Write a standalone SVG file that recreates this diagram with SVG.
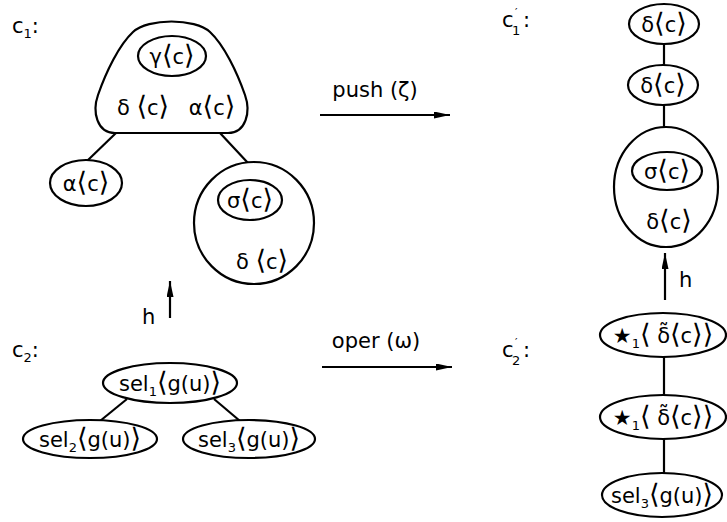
<svg xmlns="http://www.w3.org/2000/svg" width="727" height="522" viewBox="0 0 727 522">
  <style>
    .ln { fill: none; stroke: #000; stroke-width: 2.2; }
    .nd { fill: #fff; stroke: #000; stroke-width: 2.2; }
    .tx { font-family: "DejaVu Sans", "Liberation Sans", sans-serif; font-size: 21px; fill: #000; text-anchor: middle; }
    .lb { font-family: "DejaVu Sans", "Liberation Sans", sans-serif; font-size: 21px; fill: #000; }
    .sb { font-size: 13px; }
    .pr { font-size: 11px; }
    .br { font-size: 27px; }
  </style>
  <defs>
    <marker id="head" viewBox="0 0 16 7" refX="16" refY="3.5" markerWidth="16" markerHeight="7" markerUnits="userSpaceOnUse" orient="auto">
      <path d="M0,0 L16,3.5 L0,7 Z" fill="#000"/>
    </marker>
  </defs>

  <!-- configuration labels -->
  <text class="lb" x="12" y="33">c<tspan class="sb" dy="5">1</tspan><tspan dy="-5">:</tspan></text>
  <text class="lb" x="12" y="357">c<tspan class="sb" dy="5">2</tspan><tspan dy="-5">:</tspan></text>
  <g id="label-c1p">
    <text class="lb" x="502" y="27">c</text>
    <text class="lb pr" x="515" y="16">′</text>
    <text class="lb sb" x="512" y="35">1</text>
    <text class="lb" x="523" y="27">:</text>
  </g>
  <g id="label-c2p">
    <text class="lb" x="502" y="357">c</text>
    <text class="lb pr" x="515" y="346">′</text>
    <text class="lb sb" x="512" y="365">2</text>
    <text class="lb" x="523" y="357">:</text>
  </g>

  <!-- connectors -->
  <g id="connectors">
    <line class="ln" x1="148" y1="76" x2="140" y2="89"/>
    <line class="ln" x1="195" y1="76" x2="203" y2="88"/>
    <line class="ln" x1="116" y1="133" x2="87" y2="161"/>
    <line class="ln" x1="220" y1="133" x2="248" y2="163"/>
    <line class="ln" x1="254" y1="220" x2="254" y2="238"/>
    <line class="ln" x1="127" y1="399" x2="100" y2="421"/>
    <line class="ln" x1="214" y1="399" x2="240" y2="421"/>
    <line class="ln" x1="664" y1="44" x2="664" y2="66"/>
    <line class="ln" x1="664" y1="105" x2="664" y2="128"/>
    <line class="ln" x1="666" y1="190" x2="666" y2="205"/>
    <line class="ln" x1="664" y1="357" x2="664" y2="396"/>
    <line class="ln" x1="664" y1="439" x2="664" y2="474"/>
    <!-- morphisms -->
    <line class="ln" x1="320" y1="115" x2="450" y2="115" marker-end="url(#head)"/>
    <line class="ln" x1="322" y1="367" x2="452" y2="367" marker-end="url(#head)"/>
    <line class="ln" x1="170" y1="318" x2="170" y2="281" marker-end="url(#head)"/>
    <line class="ln" x1="665" y1="300" x2="665" y2="253" marker-end="url(#head)"/>
  </g>

  <!-- morphism labels -->
  <text class="tx" x="375" y="97">push (ζ)</text>
  <text class="tx" x="376" y="348">oper (ω)</text>
  <text class="lb" x="142" y="324">h</text>
  <text class="lb" x="679" y="287">h</text>

  <!-- c1 -->
  <g id="c1-root">
    <path class="nd" d="M115,133 L228,133 C246,133 251,112 245,95 C237,72 224,45 210,32 C195,18 148,18 133,32 C119,45 106,72 98,95 C92,112 97,133 115,133 Z"/>
    <ellipse class="nd" cx="172" cy="56" rx="34" ry="20"/>
    <text class="tx" x="172" y="64">γ<tspan class="br">⟨</tspan>c<tspan class="br">⟩</tspan></text>
    <text class="tx" x="143" y="115">δ <tspan class="br">⟨</tspan>c<tspan class="br">⟩</tspan></text>
    <text class="tx" x="212" y="115">α<tspan class="br">⟨</tspan>c<tspan class="br">⟩</tspan></text>
  </g>
  <g id="c1-alpha">
    <ellipse class="nd" cx="86" cy="183" rx="36" ry="23"/>
    <text class="tx" x="86" y="191">α<tspan class="br">⟨</tspan>c<tspan class="br">⟩</tspan></text>
  </g>
  <g id="c1-sigma">
    <ellipse class="nd" cx="254" cy="223" rx="60" ry="61"/>
    <ellipse class="nd" cx="250" cy="200" rx="32" ry="20"/>
    <text class="tx" x="250" y="208">σ<tspan class="br">⟨</tspan>c<tspan class="br">⟩</tspan></text>
    <text class="tx" x="262" y="269">δ <tspan class="br">⟨</tspan>c<tspan class="br">⟩</tspan></text>
  </g>

  <!-- c2 -->
  <g id="c2-sel1">
    <ellipse class="nd" cx="170" cy="383" rx="67" ry="20"/>
    <text class="tx" x="170" y="391">sel<tspan class="sb" dy="5">1</tspan><tspan class="br" dy="-5">⟨</tspan>g(u)<tspan class="br">⟩</tspan></text>
  </g>
  <g id="c2-sel2">
    <ellipse class="nd" cx="90" cy="439" rx="67" ry="19"/>
    <text class="tx" x="90" y="447">sel<tspan class="sb" dy="5">2</tspan><tspan class="br" dy="-5">⟨</tspan>g(u)<tspan class="br">⟩</tspan></text>
  </g>
  <g id="c2-sel3">
    <ellipse class="nd" cx="249" cy="439" rx="66" ry="19"/>
    <text class="tx" x="249" y="447">sel<tspan class="sb" dy="5">3</tspan><tspan class="br" dy="-5">⟨</tspan>g(u)<tspan class="br">⟩</tspan></text>
  </g>

  <!-- c1' -->
  <g id="c1p-delta1">
    <ellipse class="nd" cx="664" cy="24" rx="35" ry="20"/>
    <text class="tx" x="664" y="32">δ<tspan class="br">⟨</tspan>c<tspan class="br">⟩</tspan></text>
  </g>
  <g id="c1p-delta2">
    <ellipse class="nd" cx="663" cy="85" rx="35" ry="20"/>
    <text class="tx" x="663" y="93">δ<tspan class="br">⟨</tspan>c<tspan class="br">⟩</tspan></text>
  </g>
  <g id="c1p-sigma">
    <ellipse class="nd" cx="666" cy="187" rx="52" ry="60"/>
    <ellipse class="nd" cx="667" cy="171" rx="35" ry="19"/>
    <text class="tx" x="667" y="179">σ<tspan class="br">⟨</tspan>c<tspan class="br">⟩</tspan></text>
    <text class="tx" x="669" y="229">δ<tspan class="br">⟨</tspan>c<tspan class="br">⟩</tspan></text>
  </g>

  <!-- c2' -->
  <g id="c2p-star1">
    <ellipse class="nd" cx="663" cy="335" rx="63" ry="22"/>
    <text class="tx" x="663" y="343">★<tspan class="sb" dy="5">1</tspan><tspan class="br" dy="-5">⟨</tspan> δ̃<tspan class="br">⟨</tspan>c<tspan class="br">⟩⟩</tspan></text>
  </g>
  <g id="c2p-star2">
    <ellipse class="nd" cx="663" cy="417" rx="63" ry="22"/>
    <text class="tx" x="663" y="425">★<tspan class="sb" dy="5">1</tspan><tspan class="br" dy="-5">⟨</tspan> δ̃<tspan class="br">⟨</tspan>c<tspan class="br">⟩⟩</tspan></text>
  </g>
  <g id="c2p-sel3">
    <ellipse class="nd" cx="662" cy="495" rx="60" ry="22"/>
    <text class="tx" x="662" y="503">sel<tspan class="sb" dy="5">3</tspan><tspan class="br" dy="-5">⟨</tspan>g(u)<tspan class="br">⟩</tspan></text>
  </g>
</svg>
